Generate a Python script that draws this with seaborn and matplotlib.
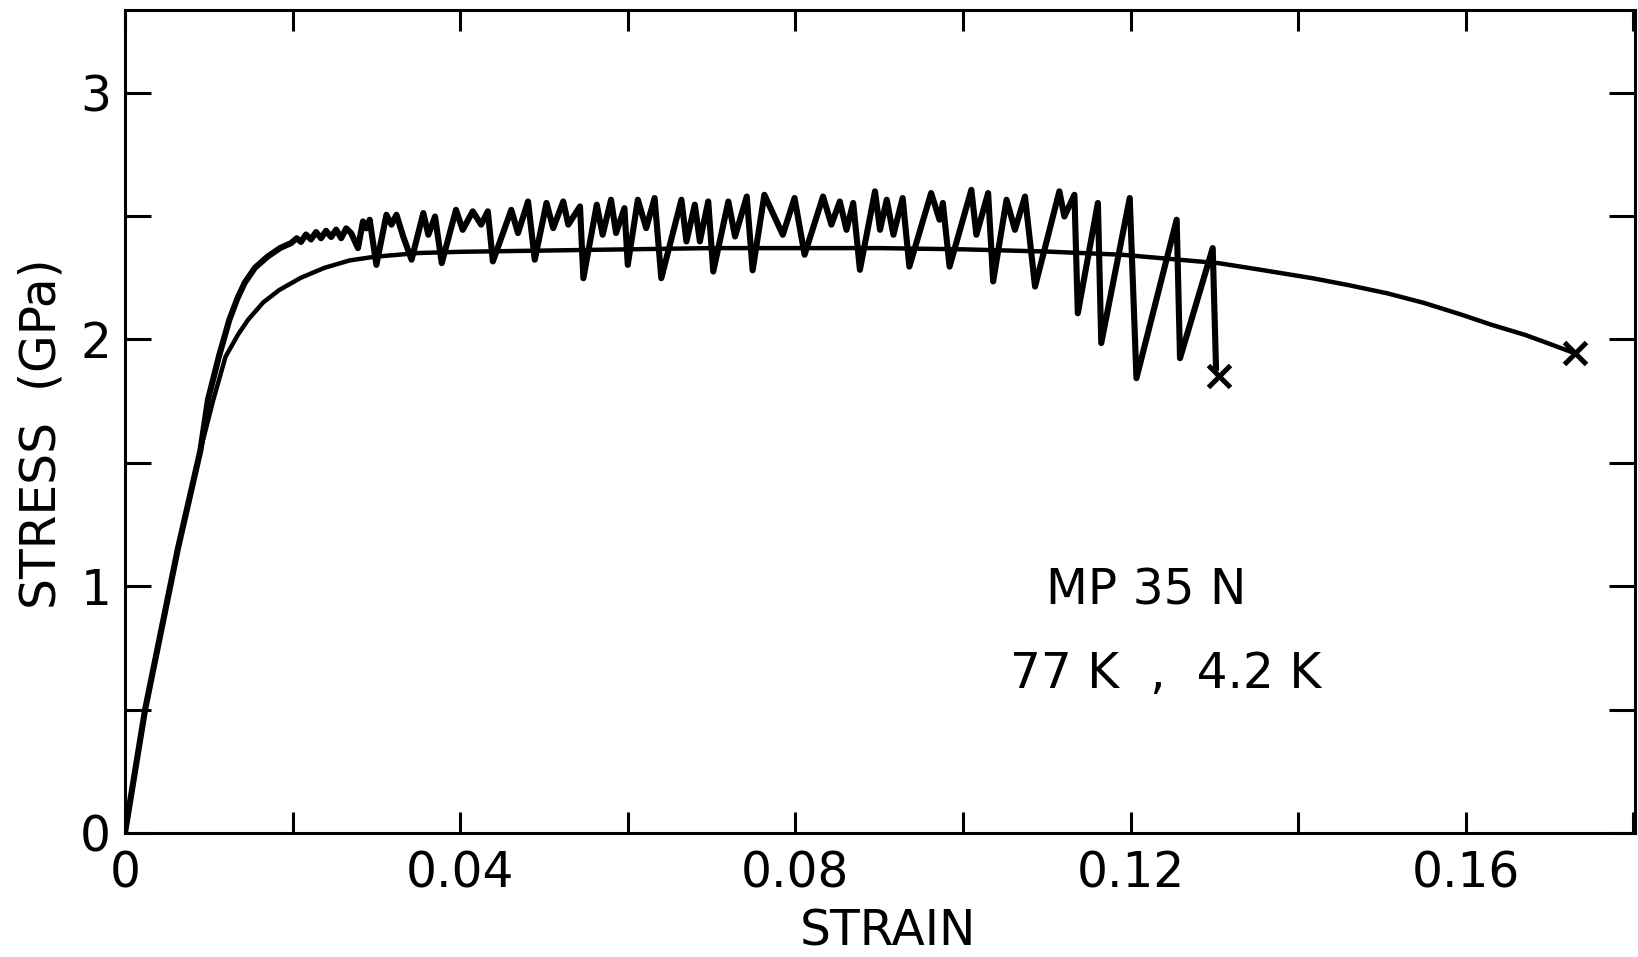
import matplotlib
matplotlib.use("Agg")
import matplotlib.pyplot as plt
import seaborn as sns
import pandas as pd

# 77 K curve (smooth)
strain_77 = [0, 0.0024, 0.0063, 0.009, 0.0105, 0.012, 0.0135, 0.0147, 0.0165, 0.0184,
             0.021, 0.0238, 0.0268, 0.0298, 0.035, 0.04, 0.05, 0.06, 0.07, 0.08,
             0.09, 0.10, 0.11, 0.119, 0.1305, 0.135, 0.1417, 0.146, 0.1506, 0.155,
             0.1596, 0.163, 0.1671, 0.170, 0.1730]
stress_77 = [0, 0.50, 1.15, 1.55, 1.75, 1.93, 2.02, 2.08, 2.15, 2.20,
             2.25, 2.29, 2.32, 2.335, 2.35, 2.355, 2.36, 2.365, 2.37, 2.37,
             2.37, 2.365, 2.356, 2.343, 2.309, 2.285, 2.248, 2.22, 2.187, 2.148,
             2.099, 2.06, 2.018, 1.982, 1.944]

# 4.2 K curve (serrated)
strain_42 = [0, 0.0024, 0.0063, 0.0090, 0.0099, 0.0112, 0.01245, 0.0134, 0.01428, 0.0155,
             0.0170, 0.0185, 0.0198, 0.0205, 0.0210, 0.0216, 0.0222, 0.0228, 0.0234, 0.0240,
             0.0246, 0.0252, 0.0258, 0.0264, 0.0270, 0.0278, 0.0284, 0.0288, 0.0292, 0.0300,
             0.0312, 0.0318, 0.0324, 0.0332, 0.0342, 0.0356, 0.0362, 0.0370, 0.0378, 0.0395,
             0.0403, 0.0415, 0.0425, 0.0433, 0.0439, 0.0461, 0.0469, 0.0481, 0.0489, 0.0503,
             0.0511, 0.0523, 0.0529, 0.0543, 0.0547, 0.0563, 0.0570, 0.0580, 0.0586, 0.0596,
             0.0600, 0.0612, 0.0622, 0.0632, 0.0640, 0.0664, 0.0670, 0.0680, 0.0686, 0.0696,
             0.0702, 0.0720, 0.0728, 0.0742, 0.0749, 0.0763, 0.0785, 0.0799, 0.0811, 0.0833,
             0.0843, 0.0853, 0.0861, 0.0869, 0.0877, 0.0895, 0.0901, 0.0909, 0.0917, 0.0928,
             0.0936, 0.0962, 0.0972, 0.0976, 0.0984, 0.1010, 0.1016, 0.1030, 0.1036, 0.1052,
             0.1062, 0.1074, 0.1086, 0.1115, 0.1121, 0.1133, 0.1137, 0.1161, 0.1165, 0.1199,
             0.1207, 0.1255, 0.1259, 0.1298, 0.1302]
stress_42 = [0, 0.50, 1.15, 1.55, 1.755, 1.93, 2.079, 2.165, 2.229, 2.29,
             2.335, 2.37, 2.39, 2.41, 2.395, 2.425, 2.405, 2.435, 2.41, 2.44,
             2.415, 2.445, 2.41, 2.45, 2.43, 2.37, 2.478, 2.45, 2.485, 2.302,
             2.505, 2.465, 2.505, 2.417, 2.323, 2.512, 2.424, 2.498, 2.309, 2.525,
             2.444, 2.519, 2.465, 2.519, 2.316, 2.525, 2.431, 2.559, 2.323, 2.553,
             2.451, 2.559, 2.465, 2.539, 2.248, 2.546, 2.424, 2.566, 2.431, 2.532,
             2.302, 2.566, 2.451, 2.573, 2.248, 2.566, 2.397, 2.546, 2.397, 2.559,
             2.275, 2.559, 2.417, 2.579, 2.28, 2.586, 2.424, 2.573, 2.343, 2.579,
             2.465, 2.559, 2.444, 2.553, 2.282, 2.600, 2.444, 2.566, 2.424, 2.573,
             2.295, 2.593, 2.485, 2.553, 2.295, 2.606, 2.424, 2.593, 2.235, 2.566,
             2.444, 2.579, 2.214, 2.600, 2.498, 2.586, 2.106, 2.553, 1.985, 2.573,
             1.843, 2.485, 1.924, 2.370, 1.88]

# fracture points (x marks)
fracture_strain = [0.1305, 0.1730]
fracture_stress = [1.852, 1.944]

xtick_vals = [0, 0.04, 0.08, 0.12, 0.16]
xtick_labels = ["0", "0.04", "0.08", "0.12", "0.16"]
ytick_vals = [0, 1, 2, 3]
ytick_labels = ["0", "1", "2", "3"]

df77 = pd.DataFrame({"strain": strain_77, "stress": stress_77})
df42 = pd.DataFrame({"strain": strain_42, "stress": stress_42})

sns.set_style("ticks")
plt.rcParams["font.family"] = ["DejaVu Sans"]
plt.rcParams["text.color"] = "black"

fig = plt.figure(figsize=(16.38, 9.57), dpi=100)
ax = fig.add_axes([0.0763, 0.1296, 0.9219, 0.8600])

sns.lineplot(data=df77, x="strain", y="stress", sort=False, estimator=None,
             color="black", lw=3.2, ax=ax, solid_joinstyle="round", solid_capstyle="round")
sns.lineplot(data=df42, x="strain", y="stress", sort=False, estimator=None,
             color="black", lw=4.4, ax=ax, solid_joinstyle="round", solid_capstyle="round")
ax.plot(fracture_strain, fracture_stress, linestyle="none", marker="x",
        markersize=16, markeredgewidth=3.6, color="black")

ax.set_xlim(0, 0.1802)
ax.set_ylim(0, 3.335)
ax.set_xticks(xtick_vals)
ax.set_xticklabels(xtick_labels)
ax.set_xticks([0.02, 0.06, 0.10, 0.14, 0.18], minor=True)
ax.set_yticks(ytick_vals)
ax.set_yticklabels(ytick_labels)
ax.set_yticks([0.5, 1.5, 2.5], minor=True)

for side in ["left", "right", "top", "bottom"]:
    ax.spines[side].set_visible(True)
    ax.spines[side].set_linewidth(2.2)
    ax.spines[side].set_color("black")

ax.tick_params(axis="x", which="both", direction="in", top=True, bottom=True,
               length=15, width=2.2, labelsize=35, pad=12, colors="black")
ax.tick_params(axis="y", which="both", direction="in", left=True, right=True,
               length=19, width=2.2, labelsize=35, pad=10, colors="black")

ax.set_xlabel("STRAIN", fontsize=35, color="black")
ax.set_ylabel("STRESS  (GPa)", fontsize=35, color="black")
ax.xaxis.label.set_va("center")
ax.yaxis.label.set_va("center")
ax.xaxis.set_label_coords(0.505, -0.12)
ax.yaxis.set_label_coords(-0.055, 0.485)

ax.text(0.1219, 0.984, "MP 35 N", fontsize=35, ha="center", va="center", color="black")
ax.text(0.1242, 0.643, "77 K  ,  4.2 K", fontsize=35, ha="center", va="center", color="black")

fig.savefig("out.png", dpi=100)
